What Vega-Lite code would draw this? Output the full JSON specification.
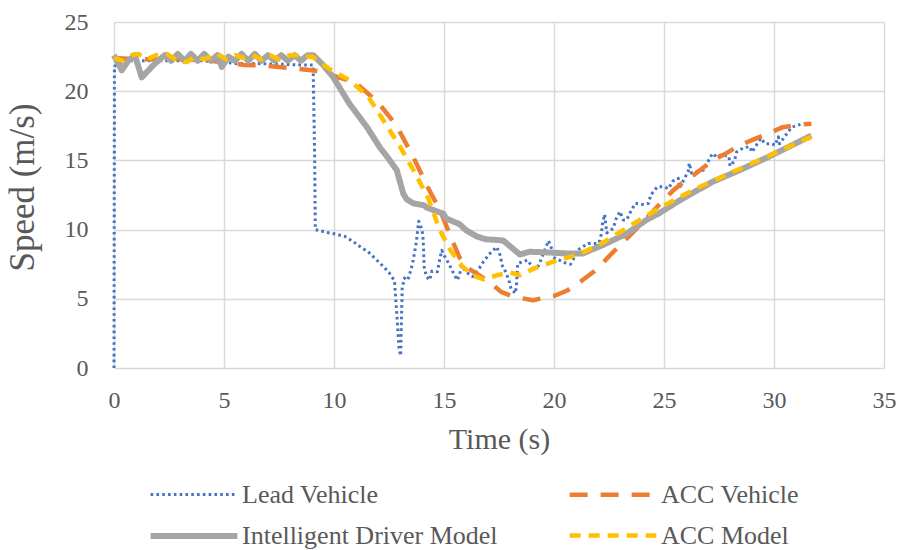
{
  "$schema": "https://vega.github.io/schema/vega-lite/v6.json",
  "width": 770,
  "height": 346,
  "autosize": {"type": "none"},
  "padding": {"left": 114, "top": 22, "right": 14, "bottom": 182},
  "background": "white",
  "config": {"view": {"stroke": null}, "font": "Liberation Serif"},
  "data": {"values": [
    {"series":"Lead Vehicle","t":0,"v":0},{"series":"Lead Vehicle","t":0.02,"v":21.8},{"series":"Lead Vehicle","t":0.5,"v":22.2},{"series":"Lead Vehicle","t":1,"v":22.2},{"series":"Lead Vehicle","t":2,"v":22.2},{"series":"Lead Vehicle","t":3,"v":22.2},{"series":"Lead Vehicle","t":4,"v":22.2},{"series":"Lead Vehicle","t":5,"v":22.1},{"series":"Lead Vehicle","t":5.5,"v":22.0},{"series":"Lead Vehicle","t":6.5,"v":22.0},{"series":"Lead Vehicle","t":7.5,"v":21.95},{"series":"Lead Vehicle","t":8.5,"v":21.9},{"series":"Lead Vehicle","t":9.05,"v":21.9},{"series":"Lead Vehicle","t":9.12,"v":15.4},{"series":"Lead Vehicle","t":9.15,"v":10.0},{"series":"Lead Vehicle","t":9.67,"v":9.8},{"series":"Lead Vehicle","t":10.09,"v":9.67},{"series":"Lead Vehicle","t":10.5,"v":9.5},{"series":"Lead Vehicle","t":10.9,"v":9.1},{"series":"Lead Vehicle","t":11.2,"v":8.75},{"series":"Lead Vehicle","t":11.55,"v":8.4},{"series":"Lead Vehicle","t":11.9,"v":7.86},{"series":"Lead Vehicle","t":12.2,"v":7.4},{"series":"Lead Vehicle","t":12.5,"v":6.9},{"series":"Lead Vehicle","t":12.75,"v":6.3},{"series":"Lead Vehicle","t":12.85,"v":4},{"series":"Lead Vehicle","t":12.95,"v":1.5},{"series":"Lead Vehicle","t":13.03,"v":0.89},{"series":"Lead Vehicle","t":13.1,"v":5.8},{"series":"Lead Vehicle","t":13.2,"v":6.5},{"series":"Lead Vehicle","t":13.35,"v":6.35},{"series":"Lead Vehicle","t":13.5,"v":7.1},{"series":"Lead Vehicle","t":13.6,"v":7.8},{"series":"Lead Vehicle","t":13.7,"v":8.7},{"series":"Lead Vehicle","t":13.75,"v":9.2},{"series":"Lead Vehicle","t":13.85,"v":10.6},{"series":"Lead Vehicle","t":14.0,"v":10.0},{"series":"Lead Vehicle","t":14.05,"v":9.3},{"series":"Lead Vehicle","t":14.07,"v":8.6},{"series":"Lead Vehicle","t":14.08,"v":8.0},{"series":"Lead Vehicle","t":14.1,"v":7.3},{"series":"Lead Vehicle","t":14.2,"v":6.6},{"series":"Lead Vehicle","t":14.35,"v":6.35},{"series":"Lead Vehicle","t":14.45,"v":7.0},{"series":"Lead Vehicle","t":14.7,"v":6.95},{"series":"Lead Vehicle","t":14.8,"v":7.8},{"series":"Lead Vehicle","t":14.9,"v":8.5},{"series":"Lead Vehicle","t":15.0,"v":8.15},{"series":"Lead Vehicle","t":15.2,"v":7.6},{"series":"Lead Vehicle","t":15.4,"v":6.95},{"series":"Lead Vehicle","t":15.6,"v":6.35},{"series":"Lead Vehicle","t":15.7,"v":6.7},{"series":"Lead Vehicle","t":15.8,"v":7.4},{"series":"Lead Vehicle","t":16.0,"v":6.95},{"series":"Lead Vehicle","t":16.3,"v":6.6},{"series":"Lead Vehicle","t":16.6,"v":7.2},{"series":"Lead Vehicle","t":16.8,"v":7.7},{"series":"Lead Vehicle","t":17.1,"v":8.3},{"series":"Lead Vehicle","t":17.4,"v":8.75},{"series":"Lead Vehicle","t":17.55,"v":8.15},{"series":"Lead Vehicle","t":17.65,"v":7.4},{"series":"Lead Vehicle","t":17.8,"v":6.95},{"series":"Lead Vehicle","t":17.95,"v":6.35},{"series":"Lead Vehicle","t":18.05,"v":5.7},{"series":"Lead Vehicle","t":18.25,"v":5.4},{"series":"Lead Vehicle","t":18.3,"v":6.15},{"series":"Lead Vehicle","t":18.35,"v":7.55},{"series":"Lead Vehicle","t":18.8,"v":7.8},{"series":"Lead Vehicle","t":19.05,"v":7.2},{"series":"Lead Vehicle","t":19.3,"v":7.4},{"series":"Lead Vehicle","t":19.6,"v":8.6},{"series":"Lead Vehicle","t":19.75,"v":9.2},{"series":"Lead Vehicle","t":19.9,"v":8.6},{"series":"Lead Vehicle","t":19.95,"v":8.0},{"series":"Lead Vehicle","t":20.5,"v":7.6},{"series":"Lead Vehicle","t":20.75,"v":7.5},{"series":"Lead Vehicle","t":21.15,"v":8.6},{"series":"Lead Vehicle","t":21.55,"v":9.0},{"series":"Lead Vehicle","t":21.9,"v":9.0},{"series":"Lead Vehicle","t":22.05,"v":9.05},{"series":"Lead Vehicle","t":22.15,"v":9.67},{"series":"Lead Vehicle","t":22.2,"v":10.4},{"series":"Lead Vehicle","t":22.3,"v":11.1},{"series":"Lead Vehicle","t":22.35,"v":10.4},{"series":"Lead Vehicle","t":22.4,"v":9.76},{"series":"Lead Vehicle","t":22.7,"v":10.1},{"series":"Lead Vehicle","t":22.8,"v":10.7},{"series":"Lead Vehicle","t":23.0,"v":11.3},{"series":"Lead Vehicle","t":23.15,"v":10.7},{"series":"Lead Vehicle","t":23.3,"v":10.7},{"series":"Lead Vehicle","t":23.5,"v":11.35},{"series":"Lead Vehicle","t":23.7,"v":11.9},{"series":"Lead Vehicle","t":24.1,"v":11.8},{"series":"Lead Vehicle","t":24.3,"v":11.9},{"series":"Lead Vehicle","t":24.4,"v":12.5},{"series":"Lead Vehicle","t":24.7,"v":13.1},{"series":"Lead Vehicle","t":25.0,"v":13.1},{"series":"Lead Vehicle","t":25.2,"v":12.95},{"series":"Lead Vehicle","t":25.4,"v":13.5},{"series":"Lead Vehicle","t":25.65,"v":13.7},{"series":"Lead Vehicle","t":25.7,"v":13.0},{"series":"Lead Vehicle","t":26.1,"v":14.2},{"series":"Lead Vehicle","t":26.15,"v":14.8},{"series":"Lead Vehicle","t":26.25,"v":14.1},{"series":"Lead Vehicle","t":26.8,"v":14.3},{"series":"Lead Vehicle","t":27.0,"v":14.9},{"series":"Lead Vehicle","t":27.2,"v":15.5},{"series":"Lead Vehicle","t":27.4,"v":15.25},{"series":"Lead Vehicle","t":27.6,"v":15.4},{"series":"Lead Vehicle","t":27.95,"v":15.3},{"series":"Lead Vehicle","t":28.0,"v":14.6},{"series":"Lead Vehicle","t":28.2,"v":14.96},{"series":"Lead Vehicle","t":28.3,"v":15.6},{"series":"Lead Vehicle","t":28.6,"v":15.9},{"series":"Lead Vehicle","t":28.9,"v":16.0},{"series":"Lead Vehicle","t":29.0,"v":15.6},{"series":"Lead Vehicle","t":29.2,"v":16.1},{"series":"Lead Vehicle","t":29.4,"v":16.6},{"series":"Lead Vehicle","t":29.6,"v":16.2},{"series":"Lead Vehicle","t":29.9,"v":16.2},{"series":"Lead Vehicle","t":30.05,"v":16.1},{"series":"Lead Vehicle","t":30.2,"v":16.7},{"series":"Lead Vehicle","t":30.25,"v":16.2},{"series":"Lead Vehicle","t":30.8,"v":17.4},{"series":"Lead Vehicle","t":31.2,"v":17.6},

    {"series":"ACC Vehicle","t":0,"v":22.4},{"series":"ACC Vehicle","t":1,"v":22.3},{"series":"ACC Vehicle","t":2,"v":22.3},{"series":"ACC Vehicle","t":3,"v":22.3},{"series":"ACC Vehicle","t":4,"v":22.25},{"series":"ACC Vehicle","t":5,"v":22.1},{"series":"ACC Vehicle","t":5.9,"v":21.9},{"series":"ACC Vehicle","t":6.8,"v":21.85},{"series":"ACC Vehicle","t":7.85,"v":21.7},{"series":"ACC Vehicle","t":9.06,"v":21.5},{"series":"ACC Vehicle","t":9.5,"v":21.4},{"series":"ACC Vehicle","t":10.0,"v":21.1},{"series":"ACC Vehicle","t":10.95,"v":20.65},{"series":"ACC Vehicle","t":12.0,"v":19.2},{"series":"ACC Vehicle","t":12.85,"v":17.5},{"series":"ACC Vehicle","t":13.6,"v":15.25},{"series":"ACC Vehicle","t":14.25,"v":13.1},{"series":"ACC Vehicle","t":14.85,"v":11.3},{"series":"ACC Vehicle","t":15.25,"v":9.7},{"series":"ACC Vehicle","t":15.7,"v":8.0},{"series":"ACC Vehicle","t":16.1,"v":7.2},{"series":"ACC Vehicle","t":16.5,"v":6.8},{"series":"ACC Vehicle","t":16.9,"v":6.4},{"series":"ACC Vehicle","t":17.3,"v":5.9},{"series":"ACC Vehicle","t":17.6,"v":5.5},{"series":"ACC Vehicle","t":18.15,"v":5.15},{"series":"ACC Vehicle","t":19.05,"v":4.9},{"series":"ACC Vehicle","t":19.5,"v":5.05},{"series":"ACC Vehicle","t":20.0,"v":5.2},{"series":"ACC Vehicle","t":20.6,"v":5.6},{"series":"ACC Vehicle","t":21.0,"v":6.0},{"series":"ACC Vehicle","t":21.8,"v":6.95},{"series":"ACC Vehicle","t":22.1,"v":7.4},{"series":"ACC Vehicle","t":22.7,"v":8.4},{"series":"ACC Vehicle","t":23.15,"v":9.1},{"series":"ACC Vehicle","t":24.2,"v":10.8},{"series":"ACC Vehicle","t":24.9,"v":12.0},{"series":"ACC Vehicle","t":25.4,"v":12.8},{"series":"ACC Vehicle","t":26.0,"v":13.6},{"series":"ACC Vehicle","t":26.4,"v":14.0},{"series":"ACC Vehicle","t":27.2,"v":15.0},{"series":"ACC Vehicle","t":27.7,"v":15.4},{"series":"ACC Vehicle","t":28.45,"v":16.1},{"series":"ACC Vehicle","t":29.05,"v":16.5},{"series":"ACC Vehicle","t":29.9,"v":17.05},{"series":"ACC Vehicle","t":30.4,"v":17.4},{"series":"ACC Vehicle","t":31.2,"v":17.6},{"series":"ACC Vehicle","t":31.7,"v":17.65},

    {"series":"Intelligent Driver Model","t":0,"v":22.6},{"series":"Intelligent Driver Model","t":0.35,"v":21.5},{"series":"Intelligent Driver Model","t":0.65,"v":22.2},{"series":"Intelligent Driver Model","t":0.95,"v":22.6},{"series":"Intelligent Driver Model","t":1.26,"v":21.0},{"series":"Intelligent Driver Model","t":1.8,"v":21.9},{"series":"Intelligent Driver Model","t":2.3,"v":22.6},{"series":"Intelligent Driver Model","t":2.6,"v":22.2},{"series":"Intelligent Driver Model","t":2.9,"v":22.7},{"series":"Intelligent Driver Model","t":3.2,"v":22.2},{"series":"Intelligent Driver Model","t":3.5,"v":22.7},{"series":"Intelligent Driver Model","t":3.8,"v":22.2},{"series":"Intelligent Driver Model","t":4.1,"v":22.7},{"series":"Intelligent Driver Model","t":4.4,"v":22.2},{"series":"Intelligent Driver Model","t":4.7,"v":22.6},{"series":"Intelligent Driver Model","t":4.9,"v":21.75},{"series":"Intelligent Driver Model","t":5.2,"v":22.5},{"series":"Intelligent Driver Model","t":5.5,"v":22.2},{"series":"Intelligent Driver Model","t":5.8,"v":22.7},{"series":"Intelligent Driver Model","t":6.1,"v":22.2},{"series":"Intelligent Driver Model","t":6.4,"v":22.7},{"series":"Intelligent Driver Model","t":6.7,"v":22.2},{"series":"Intelligent Driver Model","t":7.0,"v":22.6},{"series":"Intelligent Driver Model","t":7.3,"v":22.2},{"series":"Intelligent Driver Model","t":7.6,"v":22.6},{"series":"Intelligent Driver Model","t":7.9,"v":22.2},{"series":"Intelligent Driver Model","t":8.2,"v":22.6},{"series":"Intelligent Driver Model","t":8.5,"v":22.2},{"series":"Intelligent Driver Model","t":8.8,"v":22.6},{"series":"Intelligent Driver Model","t":9.06,"v":22.6},{"series":"Intelligent Driver Model","t":9.5,"v":21.9},{"series":"Intelligent Driver Model","t":9.97,"v":21.0},{"series":"Intelligent Driver Model","t":10.7,"v":19.1},{"series":"Intelligent Driver Model","t":11.5,"v":17.4},{"series":"Intelligent Driver Model","t":12.1,"v":15.9},{"series":"Intelligent Driver Model","t":12.4,"v":15.3},{"series":"Intelligent Driver Model","t":12.85,"v":14.3},{"series":"Intelligent Driver Model","t":13.15,"v":12.6},{"series":"Intelligent Driver Model","t":13.3,"v":12.2},{"series":"Intelligent Driver Model","t":13.6,"v":11.9},{"series":"Intelligent Driver Model","t":14.1,"v":11.75},{"series":"Intelligent Driver Model","t":14.2,"v":11.6},{"series":"Intelligent Driver Model","t":14.97,"v":11.15},{"series":"Intelligent Driver Model","t":15.1,"v":10.8},{"series":"Intelligent Driver Model","t":15.7,"v":10.4},{"series":"Intelligent Driver Model","t":16.0,"v":9.96},{"series":"Intelligent Driver Model","t":16.5,"v":9.5},{"series":"Intelligent Driver Model","t":16.9,"v":9.3},{"series":"Intelligent Driver Model","t":17.5,"v":9.24},{"series":"Intelligent Driver Model","t":17.7,"v":9.2},{"series":"Intelligent Driver Model","t":18.15,"v":8.6},{"series":"Intelligent Driver Model","t":18.45,"v":8.2},{"series":"Intelligent Driver Model","t":18.9,"v":8.4},{"series":"Intelligent Driver Model","t":19.7,"v":8.35},{"series":"Intelligent Driver Model","t":20.7,"v":8.27},{"series":"Intelligent Driver Model","t":21.3,"v":8.27},{"series":"Intelligent Driver Model","t":22.2,"v":8.87},{"series":"Intelligent Driver Model","t":23.3,"v":9.7},{"series":"Intelligent Driver Model","t":24.2,"v":10.7},{"series":"Intelligent Driver Model","t":24.8,"v":11.2},{"series":"Intelligent Driver Model","t":25.7,"v":12.1},{"series":"Intelligent Driver Model","t":27.2,"v":13.45},{"series":"Intelligent Driver Model","t":28.45,"v":14.3},{"series":"Intelligent Driver Model","t":29.8,"v":15.3},{"series":"Intelligent Driver Model","t":30.7,"v":16.0},{"series":"Intelligent Driver Model","t":31.7,"v":16.8},

    {"series":"ACC Model","t":0,"v":22.4},{"series":"ACC Model","t":0.4,"v":22.2},{"series":"ACC Model","t":0.8,"v":22.6},{"series":"ACC Model","t":1.1,"v":22.7},{"series":"ACC Model","t":1.5,"v":22.3},{"series":"ACC Model","t":1.9,"v":22.6},{"series":"ACC Model","t":2.4,"v":22.7},{"series":"ACC Model","t":2.8,"v":22.3},{"series":"ACC Model","t":3.3,"v":22.1},{"series":"ACC Model","t":3.7,"v":22.5},{"series":"ACC Model","t":4.1,"v":22.3},{"series":"ACC Model","t":4.7,"v":22.7},{"series":"ACC Model","t":5.1,"v":22.3},{"series":"ACC Model","t":5.5,"v":22.6},{"series":"ACC Model","t":5.9,"v":22.4},{"series":"ACC Model","t":6.3,"v":22.6},{"series":"ACC Model","t":6.7,"v":22.3},{"series":"ACC Model","t":7.1,"v":22.6},{"series":"ACC Model","t":7.5,"v":22.3},{"series":"ACC Model","t":8.0,"v":22.6},{"series":"ACC Model","t":8.45,"v":22.6},{"series":"ACC Model","t":9.05,"v":22.45},{"series":"ACC Model","t":9.8,"v":21.6},{"series":"ACC Model","t":10.7,"v":20.8},{"series":"ACC Model","t":11.56,"v":19.6},{"series":"ACC Model","t":12.24,"v":17.9},{"series":"ACC Model","t":13.0,"v":16.0},{"series":"ACC Model","t":13.7,"v":14.05},{"series":"ACC Model","t":14.3,"v":12.2},{"series":"ACC Model","t":14.8,"v":10.0},{"series":"ACC Model","t":15.3,"v":8.5},{"series":"ACC Model","t":15.8,"v":7.4},{"series":"ACC Model","t":16.3,"v":6.7},{"series":"ACC Model","t":16.8,"v":6.4},{"series":"ACC Model","t":17.4,"v":6.7},{"series":"ACC Model","t":18.0,"v":6.9},{"series":"ACC Model","t":18.45,"v":6.7},{"series":"ACC Model","t":19.1,"v":7.2},{"series":"ACC Model","t":20.1,"v":7.75},{"series":"ACC Model","t":21.0,"v":8.15},{"series":"ACC Model","t":21.9,"v":8.75},{"series":"ACC Model","t":23.15,"v":9.96},{"series":"ACC Model","t":24.2,"v":11.0},{"series":"ACC Model","t":25.3,"v":12.0},{"series":"ACC Model","t":26.5,"v":13.0},{"series":"ACC Model","t":27.2,"v":13.5},{"series":"ACC Model","t":28.45,"v":14.4},{"series":"ACC Model","t":29.8,"v":15.35},{"series":"ACC Model","t":30.7,"v":16.0},{"series":"ACC Model","t":31.7,"v":16.7}
  ]},
  "mark": {"type": "line", "strokeJoin": "round"},
  "encoding": {
    "x": {
      "field": "t", "type": "quantitative",
      "scale": {"domain": [0, 35], "nice": false, "zero": false},
      "axis": {
        "values": [0, 5, 10, 15, 20, 25, 30, 35], "title": "Time (s)",
        "grid": true, "gridColor": "#d9d9d9", "gridWidth": 1.5,
        "domain": false, "ticks": false, "labelFlush": false,
        "labelFontSize": 24, "labelColor": "#595959", "labelPadding": 20, "labelFont": "Liberation Serif",
        "titleFontSize": 30, "titleFontWeight": "normal", "titleColor": "#595959", "titlePadding": 12, "titleFont": "Liberation Serif"
      }
    },
    "y": {
      "field": "v", "type": "quantitative",
      "scale": {"domain": [0, 25], "nice": false},
      "axis": {
        "values": [0, 5, 10, 15, 20, 25], "title": "Speed (m/s)",
        "grid": true, "gridColor": "#d9d9d9", "gridWidth": 1.5,
        "domain": false, "ticks": false, "labelFlush": false,
        "labelFontSize": 24, "labelColor": "#595959", "labelPadding": 26, "labelFont": "Liberation Serif",
        "titleFontSize": 35, "titleFontWeight": "normal", "titleColor": "#595959", "titlePadding": 24, "titleFont": "Liberation Serif", "titleY": 165
      }
    },
    "color": {
      "field": "series", "type": "nominal",
      "scale": {"domain": ["Lead Vehicle", "ACC Vehicle", "Intelligent Driver Model", "ACC Model"], "range": ["#4472C4", "#ED7D31", "#A5A5A5", "#FFC000"]},
      "legend": {
        "title": null, "orient": "none", "legendX": 66, "legendY": 459, "columns": 2, "direction": "horizontal",
        "symbolType": "M-4,0H4", "symbolSize": 470, "labelFontSize": 26, "labelColor": "#595959", "labelFont": "Liberation Serif", "labelLimit": 500,
        "labelOffset": 34, "columnPadding": 62, "rowPadding": 14
      }
    },
    "strokeDash": {
      "field": "series", "type": "nominal",
      "scale": {"domain": ["Lead Vehicle", "ACC Vehicle", "Intelligent Driver Model", "ACC Model"], "range": [[2.6, 3.2], [18, 13], [1, 0], [11, 8]]},
      "legend": {
        "title": null, "orient": "none", "legendX": 66, "legendY": 459, "columns": 2, "direction": "horizontal",
        "symbolType": "M-4,0H4", "symbolSize": 470, "labelFontSize": 26, "labelColor": "#595959", "labelFont": "Liberation Serif", "labelLimit": 500,
        "labelOffset": 34, "columnPadding": 62, "rowPadding": 14
      }
    },
    "strokeWidth": {
      "field": "series", "type": "nominal",
      "scale": {"type": "ordinal", "domain": ["Lead Vehicle", "ACC Vehicle", "Intelligent Driver Model", "ACC Model"], "range": [3, 4.5, 6, 4.5]},
      "legend": {
        "title": null, "orient": "none", "legendX": 66, "legendY": 459, "columns": 2, "direction": "horizontal",
        "symbolType": "M-4,0H4", "symbolSize": 470, "labelFontSize": 26, "labelColor": "#595959", "labelFont": "Liberation Serif", "labelLimit": 500,
        "labelOffset": 34, "columnPadding": 62, "rowPadding": 14
      }
    }
  }
}
